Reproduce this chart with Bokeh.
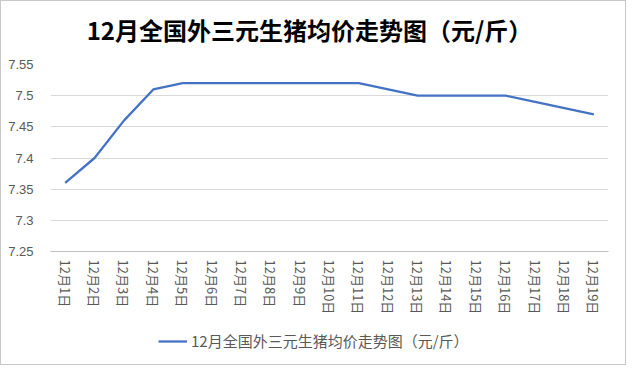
from bokeh.plotting import figure
from bokeh.layouts import column
from bokeh.models import FactorRange, Range1d, FixedTicker, Legend, LegendItem, Label
from bokeh.embed import file_html
from bokeh.resources import INLINE

title_text = "12月全国外三元生猪均价走势图（元/斤）"
series_name = "12月全国外三元生猪均价走势图（元/斤）"
days = [f"12月{i}日" for i in range(1, 20)]
prices = [7.36, 7.40, 7.46, 7.51, 7.52, 7.52, 7.52, 7.52, 7.52, 7.52,
          7.52, 7.51, 7.50, 7.50, 7.50, 7.50, 7.49, 7.48, 7.47]
y_ticks = [7.25, 7.30, 7.35, 7.40, 7.45, 7.50, 7.55]
y_tick_labels = ["7.25", "7.3", "7.35", "7.4", "7.45", "7.5", "7.55"]

CJK = "Noto Sans CJK SC"
LINE_COLOR = "#4472C4"


def strip(height, x_range):
    s = figure(width=624, height=height, output_backend="svg", toolbar_location=None,
               x_range=x_range, y_range=Range1d(100, 101),
               min_border_left=0, min_border_right=0, min_border_top=0, min_border_bottom=0)
    s.axis.visible = False
    s.grid.grid_line_color = None
    s.outline_line_color = None
    s.background_fill_color = "white"
    s.border_fill_color = "white"
    return s


# main chart
p = figure(width=624, height=263, output_backend="svg", toolbar_location=None,
           x_range=FactorRange(*days), y_range=Range1d(7.25, 7.55),
           min_border_left=49, min_border_right=17, min_border_top=6, min_border_bottom=70)
p.title.text = ""
p.background_fill_color = "white"
p.border_fill_color = "white"
p.outline_line_color = None

r = p.line(x=days, y=prices, line_color=LINE_COLOR, line_width=2.3)

p.yaxis.ticker = FixedTicker(ticks=y_ticks)
p.yaxis.major_label_overrides = {t: s for t, s in zip(y_ticks, y_tick_labels)}
p.yaxis.axis_line_color = None
p.yaxis.major_tick_line_color = None
p.yaxis.minor_tick_line_color = None
p.yaxis.major_label_text_font = "Liberation Sans"
p.yaxis.major_label_text_font_size = "13px"
p.yaxis.major_label_text_color = "#595959"
p.yaxis.major_label_standoff = 11

p.xaxis.axis_line_color = "#bfbfbf"
p.xaxis.major_tick_line_color = None
p.xaxis.major_tick_out = 0
p.xaxis.major_label_orientation = "vertical"
p.xaxis.major_label_text_font = CJK
p.xaxis.major_label_text_font_size = "13px"
p.xaxis.major_label_text_color = "#595959"
p.xaxis.major_label_standoff = 8

p.xgrid.grid_line_color = None
p.ygrid.grid_line_color = "#d9d9d9"
p.ygrid.grid_line_width = 1

# title strip above the chart
p0 = strip(57, p.x_range)
title = Label(x=259, y=29, x_units="screen", y_units="screen", text=title_text,
              text_font=CJK, text_font_size="24px", text_font_style="bold",
              text_color="#000000", text_align="center", text_baseline="middle")
p0.add_layout(title)

# legend strip below the chart
p2 = strip(43, p.x_range)
r2 = p2.line(x=days, y=prices, line_color=LINE_COLOR, line_width=2.3)
legend = Legend(items=[LegendItem(label=series_name, renderers=[r2])],
                location=(108, 13), orientation="horizontal",
                label_text_font=CJK, label_text_font_size="15px", label_text_color="#595959",
                glyph_width=29, label_standoff=4, padding=0, margin=0, spacing=0,
                border_line_color=None, background_fill_alpha=0)
p2.add_layout(legend, "center")

layout = column(p0, p, p2, spacing=0)
layout.styles = {"border": "1px solid #c8c8c8"}

open("out.html", "w").write(file_html(layout, INLINE))
